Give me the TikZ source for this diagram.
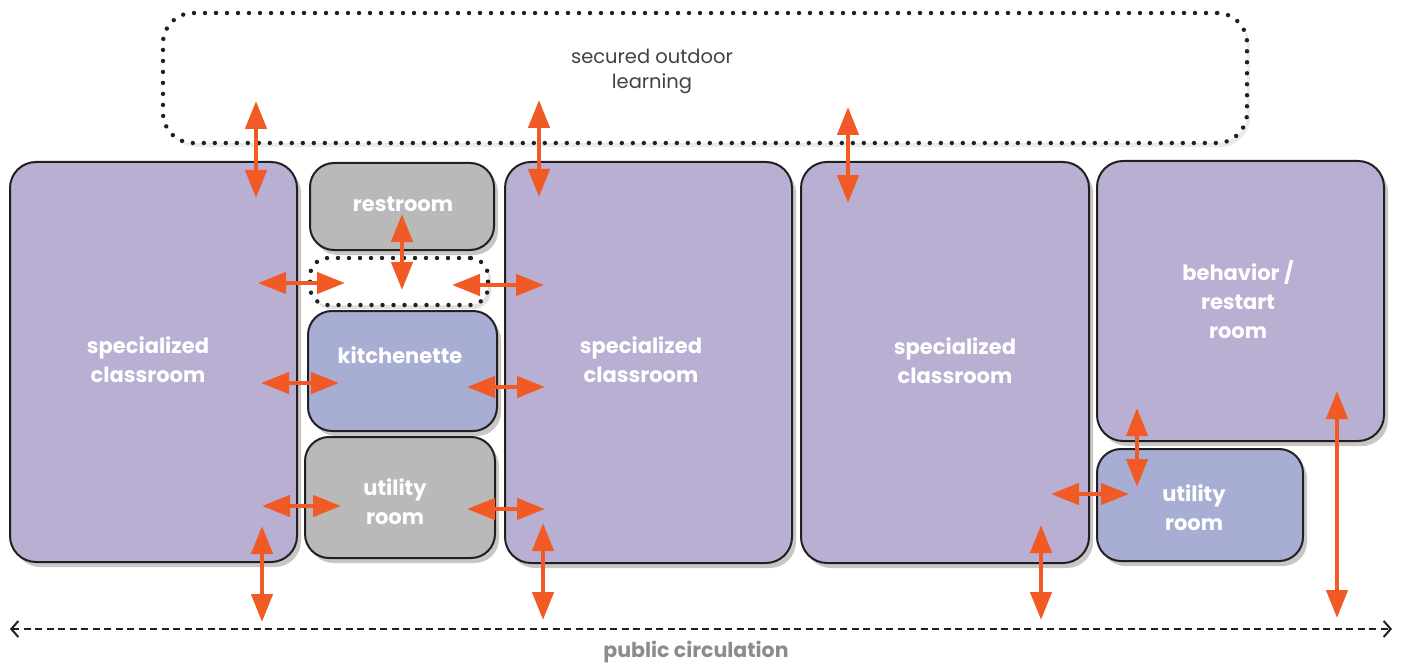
\documentclass[tikz,border=0pt]{standalone}
\usepackage{fontspec}
\setmainfont{Poppins}
\usetikzlibrary{arrows.meta,shadows}
\definecolor{classc}{HTML}{B8AFD3}
\definecolor{bluec}{HTML}{A8AED3}
\definecolor{grayc}{HTML}{B9B9B9}
\definecolor{edgec}{HTML}{231F20}
\definecolor{orangec}{HTML}{F15A24}
\definecolor{circc}{HTML}{8C8C8C}
\tikzset{
  room/.style={draw=edgec, line width=2pt, rounded corners=26pt, inner sep=0pt,
    drop shadow={shadow xshift=4pt, shadow yshift=-5pt, opacity=0.22, fill=black}},
  dotbox/.style={draw=edgec, line width=4.4pt, line cap=round, dash pattern=on 0pt off 11pt,
    fill=white, inner sep=0pt},
  roomlabel/.style={text=white, font=\bfseries\fontsize{21}{29}\selectfont, align=center, inner sep=0pt},
  biarrow/.style={draw=orangec, line width=4.5pt,
    {Triangle[length=28pt,width=21pt]}-{Triangle[length=28pt,width=21pt]}},
}
\begin{document}
\begin{tikzpicture}[x=1pt,y=-1pt]
\useasboundingbox (0,0) rectangle (1403,666);
% outdoor
\node[dotbox, rounded corners=30pt, minimum width=1084pt, minimum height=130pt,
  drop shadow={shadow xshift=3pt, shadow yshift=-4pt, opacity=0.08, fill=black}] (outdoor) at (705,78) {};
\node[text=edgec!85, font=\fontsize{19.5}{25}\selectfont, align=center, inner sep=0pt] (outdoortxt) at (652,71) {secured outdoor\\learning};
% rooms
\node[room, fill=classc, minimum width=287pt, minimum height=400pt] (cls1) at (153.5,362) {};
\node[room, fill=grayc, rounded corners=24pt, minimum width=184pt, minimum height=87pt] (rest) at (402,206.5) {};
\node[dotbox, rounded corners=18pt, minimum width=178pt, minimum height=47pt,
  drop shadow={shadow xshift=3pt, shadow yshift=-4pt, opacity=0.12, fill=black}] (hall) at (399,281.5) {};
\node[room, fill=bluec, rounded corners=24pt, minimum width=189pt, minimum height=120pt] (kitch) at (402.5,371) {};
\node[room, fill=grayc, rounded corners=24pt, minimum width=190pt, minimum height=121pt] (util1) at (400,497.5) {};
\node[room, fill=classc, minimum width=287pt, minimum height=401pt] (cls2) at (648.5,362.5) {};
\node[room, fill=classc, minimum width=288pt, minimum height=401pt] (cls3) at (945,362.5) {};
\node[room, fill=classc, minimum width=287pt, minimum height=280pt] (behav) at (1240.5,301) {};
\node[room, fill=bluec, rounded corners=24pt, minimum width=206pt, minimum height=112pt] (util2) at (1200,505) {};
% labels
\node[roomlabel] (t1) at (148,360) {specialized\\classroom};
\node[roomlabel] (t2) at (403,204) {restroom};
\node[roomlabel] (t3) at (400,355) {kitchenette};
\node[roomlabel] (t4) at (395,502) {utility\\room};
\node[roomlabel] (t5) at (641,360) {specialized\\classroom};
\node[roomlabel] (t6) at (955,361) {specialized\\classroom};
\node[roomlabel] (t7) at (1238,300) {behavior /\\restart\\room};
\node[roomlabel] (t8) at (1194,508) {utility\\room};
% public circulation
\coordinate (pcL) at (10,629);
\coordinate (pcR) at (1392,629);
\draw[edgec, line width=2pt, dash pattern=on 7pt off 4.5pt,
  {Straight Barb[length=7pt,width=16pt,line width=2pt]}-{Straight Barb[length=7pt,width=16pt,line width=2pt]}] (pcL) -- (pcR);
\node[text=circc, font=\bfseries\fontsize{20.5}{24}\selectfont, inner sep=0pt] (pctxt) at (696,652) {public circulation};
% arrow endpoints
\coordinate (a1s) at (256,101); \coordinate (a1e) at (256,198);
\coordinate (a2s) at (539,100); \coordinate (a2e) at (539,197);
\coordinate (a3s) at (848,107); \coordinate (a3e) at (848,203);
\coordinate (a4s) at (258,283); \coordinate (a4e) at (345,283);
\coordinate (a5s) at (402,214); \coordinate (a5e) at (402,290);
\coordinate (a6s) at (452,285); \coordinate (a6e) at (544,285);
\coordinate (a7s) at (261,383); \coordinate (a7e) at (339,383);
\coordinate (a8s) at (467,387); \coordinate (a8e) at (545,387);
\coordinate (a9s) at (262,506); \coordinate (a9e) at (341,506);
\coordinate (a10s) at (467,509); \coordinate (a10e) at (545,509);
\coordinate (a11s) at (262,526); \coordinate (a11e) at (262,622);
\coordinate (a12s) at (543,523); \coordinate (a12e) at (543,620);
\coordinate (a13s) at (1041,525); \coordinate (a13e) at (1041,620);
\coordinate (a14s) at (1051,494); \coordinate (a14e) at (1129,494);
\coordinate (a15s) at (1137,408); \coordinate (a15e) at (1137,487);
\coordinate (a16s) at (1337,391); \coordinate (a16e) at (1337,618);
\foreach \i in {1,...,16} {\draw[biarrow] (a\i s) -- (a\i e);}
\end{tikzpicture}
\end{document}
